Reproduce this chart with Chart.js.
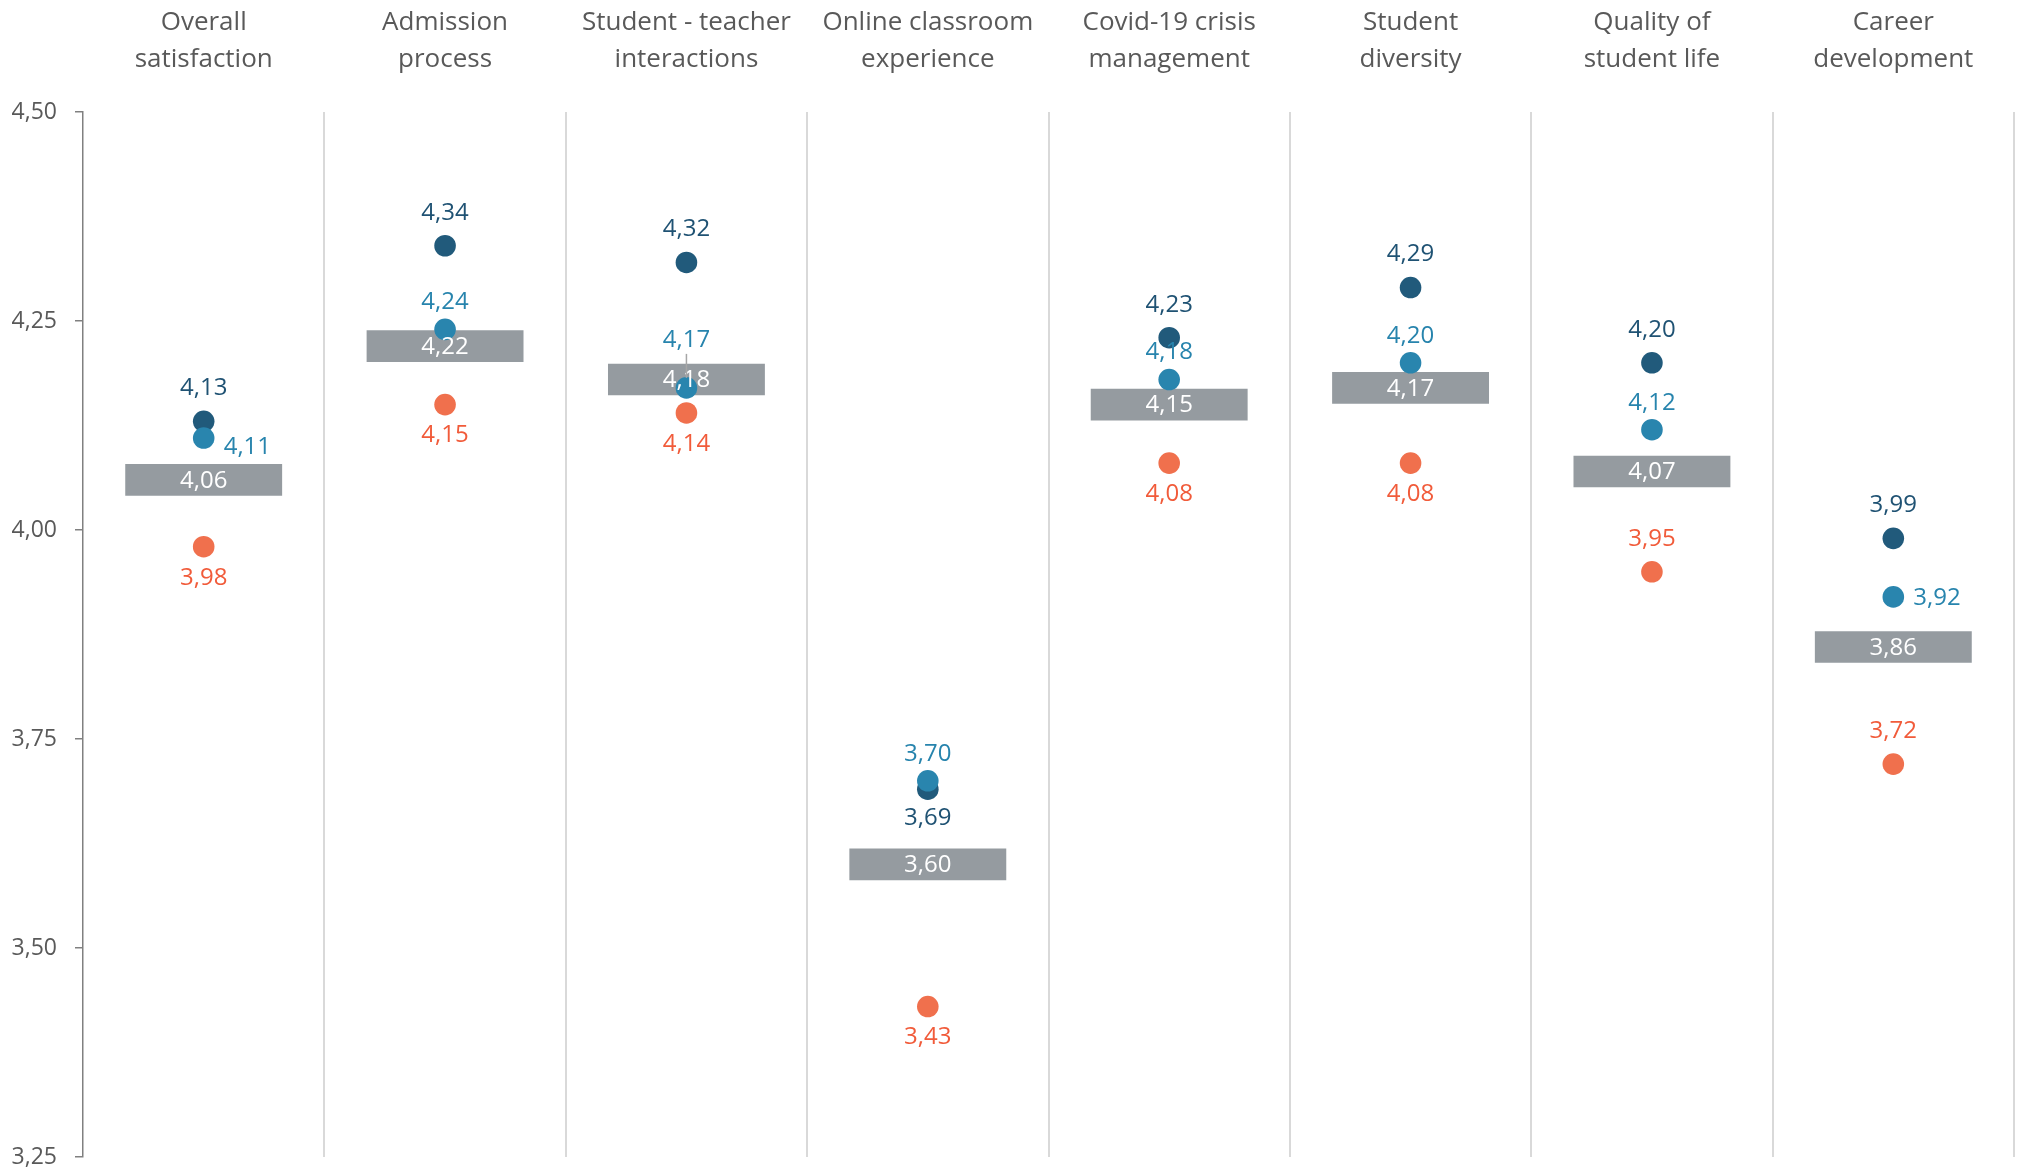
<!DOCTYPE html>
<html>
<head>
<meta charset="utf-8">
<script src="https://cdn.jsdelivr.net/npm/chart.js@4.4.1/dist/chart.umd.min.js"></script>
<style>
body { margin: 0; background: #fff; }
</style>
</head>
<body>
<canvas id="myChart" width="2020" height="1173"></canvas>
<script>
const categories = [
    ['Overall', 'satisfaction'],
    ['Admission', 'process'],
    ['Student - teacher', 'interactions'],
    ['Online classroom', 'experience'],
    ['Covid-19 crisis', 'management'],
    ['Student', 'diversity'],
    ['Quality of', 'student life'],
    ['Career', 'development']
];
const averageScores = [4.06, 4.22, 4.18, 3.60, 4.15, 4.17, 4.07, 3.86];
const darkScores = [4.13, 4.34, 4.32, 3.69, 4.23, 4.29, 4.20, 3.99];
const blueScores = [4.11, 4.24, 4.17, 3.70, 4.18, 4.20, 4.12, 3.92];
const orangeScores = [3.98, 4.15, 4.14, 3.43, 4.08, 4.08, 3.95, 3.72];
const yTicks = [3.25, 3.50, 3.75, 4.00, 4.25, 4.50];

// where each point label sits relative to its dot
const darkLabelPos = ['top', 'top', 'top', 'bottom', 'top', 'top', 'top', 'top'];
const blueLabelPos = ['right', 'top', 'high', 'top', 'top', 'top', 'top', 'right'];
const orangeLabelPos = ['bottom', 'bottom', 'bottom', 'bottom', 'bottom', 'bottom', 'top', 'top'];

const barHalf = 0.0189;
const fmt = v => v.toFixed(2).replace('.', ',');

const pointLabels = {
    id: 'pointLabels',
    afterDatasetsDraw(chart) {
        const c = chart.ctx;
        c.save();
        c.font = '24px "Open Sans"';
        c.textBaseline = 'middle';
        chart.data.datasets.forEach((ds, i) => {
            const meta = chart.getDatasetMeta(i);
            meta.data.forEach((el, j) => {
                const text = fmt(ds.values[j]);
                if (ds.type === 'bar') {
                    c.fillStyle = '#ffffff';
                    c.textAlign = 'center';
                    c.fillText(text, el.x, (el.y + el.base) / 2 + 1);
                    return;
                }
                const pos = ds.labelPos[j];
                c.fillStyle = ds.labelColor;
                if (pos === 'right') {
                    c.textAlign = 'left';
                    c.fillText(text, el.x + 20, el.y + (j === 0 ? 9 : 1));
                } else if (pos === 'high') {
                    c.strokeStyle = '#a6a6a6';
                    c.lineWidth = 1.5;
                    c.beginPath();
                    c.moveTo(el.x, el.y - 34);
                    c.lineTo(el.x, el.y - 10);
                    c.stroke();
                    c.textAlign = 'center';
                    c.fillText(text, el.x, el.y - 48);
                } else {
                    c.textAlign = 'center';
                    const gap = pos === 'top' ? ds.gapTop : ds.gapBottom;
                    c.fillText(text, el.x, pos === 'top' ? el.y - gap : el.y + gap);
                }
            });
        });
        c.restore();
    }
};

const ctx = document.getElementById('myChart');

new Chart(ctx, {
    data: {
        labels: categories,
        datasets: [
            {
                type: 'bar',
                data: averageScores.map(v => [v - barHalf, v + barHalf]),
                values: averageScores,
                backgroundColor: '#959ba0',
                borderWidth: 0,
                barPercentage: 0.65,
                categoryPercentage: 1,
                order: 10
            },
            {
                type: 'line',
                data: darkScores,
                values: darkScores,
                labelPos: darkLabelPos,
                labelColor: '#1f5273',
                gapTop: 33, gapBottom: 29,
                showLine: false,
                pointRadius: 10.8,
                pointBorderWidth: 0,
                pointBackgroundColor: '#215a7b',
                order: 3
            },
            {
                type: 'line',
                data: blueScores,
                values: blueScores,
                labelPos: blueLabelPos,
                labelColor: '#2784ad',
                gapTop: 27, gapBottom: 27,
                showLine: false,
                pointRadius: 10.8,
                pointBorderWidth: 0,
                pointBackgroundColor: '#2985ae',
                order: 2
            },
            {
                type: 'line',
                data: orangeScores,
                values: orangeScores,
                labelPos: orangeLabelPos,
                labelColor: '#f15b3a',
                gapTop: 33, gapBottom: 31,
                showLine: false,
                pointRadius: 10.8,
                pointBorderWidth: 0,
                pointBackgroundColor: '#f0704d',
                order: 1
            }
        ]
    },
    options: {
        responsive: false,
        animation: false,
        layout: {
            autoPadding: false,
            padding: { left: 0, right: 6, top: 0, bottom: 0 }
        },
        scales: {
            x: {
                type: 'category',
                position: 'top',
                offset: true,
                afterFit: scale => {
                    scale.height = 112;
                    scale.paddingLeft = 0;
                    scale.paddingRight = 0;
                },
                grid: {
                    offset: true,
                    drawTicks: false,
                    lineWidth: 2,
                    color: c => c.index === 0 ? 'rgba(0,0,0,0)' : '#d9d9d9'
                },
                border: { display: false },
                ticks: {
                    color: '#595959',
                    font: { family: 'Open Sans', size: 26, lineHeight: 1.42 },
                    padding: 34,
                    maxRotation: 0,
                    autoSkip: false
                }
            },
            y: {
                min: 3.25,
                max: 4.5,
                afterFit: scale => {
                    scale.width = 83;
                    scale.paddingTop = 16;
                    scale.paddingBottom = 16;
                },
                afterBuildTicks: scale => { scale.ticks = yTicks.map(v => ({ value: v })); },
                grid: {
                    drawOnChartArea: false,
                    drawTicks: true,
                    tickLength: 8,
                    color: '#808080',
                    lineWidth: 1.5
                },
                border: { color: '#808080', width: 1.5 },
                ticks: {
                    color: '#595959',
                    font: { family: 'Open Sans', size: 23 },
                    padding: 18,
                    callback: v => fmt(v)
                }
            }
        },
        plugins: {
            tooltip: {
                enabled: false,
            },
            legend: {
                display: false,
            }
        }
    },
    plugins: [pointLabels]
});
</script>
</body>
</html>
